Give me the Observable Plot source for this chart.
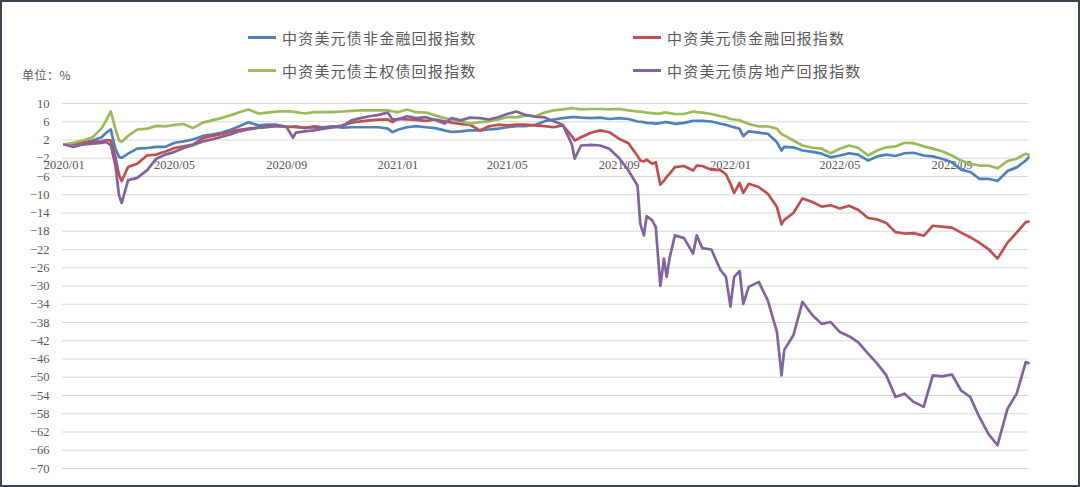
<!DOCTYPE html>
<html>
<head>
<meta charset="utf-8">
<script src="https://cdn.jsdelivr.net/npm/d3@7"></script>
<script src="https://cdn.jsdelivr.net/npm/@observablehq/plot@0.6"></script>
<style>
  html, body { margin: 0; padding: 0; background: #fff; }
  #wrap { position: relative; width: 1080px; height: 487px; background: #fff; overflow: hidden; }
  #frame { position: absolute; left: 0; top: 0; width: 1080px; height: 487px; box-sizing: border-box; border: 2px solid #3c4653; pointer-events: none; }
  #chart { position: absolute; left: 0; top: 0; }
  .leg { position: absolute; height: 20px; display: flex; align-items: center; font-family: "Noto Sans CJK SC", sans-serif; font-size: 15px; letter-spacing: 1.2px; color: #595959; white-space: nowrap; }
  .sw { display: inline-block; width: 28px; height: 3px; margin-right: 6px; }
  #unit { position: absolute; left: 22px; top: 66px; font-family: "Noto Sans CJK SC", sans-serif; font-size: 12px; letter-spacing: 0.5px; color: #595959; }
</style>
</head>
<body>
<div id="wrap">
  <div id="chart"></div>
  <div id="legend"></div>
  <div id="unit">单位：%</div>
  <div id="frame"></div>
</div>
<script>
const seriesNames = ["中资美元债非金融回报指数", "中资美元债金融回报指数", "中资美元债主权债回报指数", "中资美元债房地产回报指数"];
const seriesColors = ["#4f81bd", "#c0504d", "#9bbb59", "#8064a2"];

const yTicks = [10, 6, 2, -2, -6, -10, -14, -18, -22, -26, -30, -34, -38, -42, -46, -50, -54, -58, -62, -66, -70];
const xTickDates = ["2020-01-01", "2020-05-01", "2020-09-01", "2021-01-01", "2021-05-01", "2021-09-01", "2022-01-01", "2022-05-01", "2022-09-01"];
const xTickLabels = ["2020/01", "2020/05", "2020/09", "2021/01", "2021/05", "2021/09", "2022/01", "2022/05", "2022/09"];

const dates = [
  "2020-01-01","2020-01-11","2020-01-21","2020-02-01","2020-02-11","2020-02-16","2020-02-21","2020-02-26","2020-03-01","2020-03-04",
  "2020-03-11","2020-03-21","2020-04-01","2020-04-11","2020-04-21","2020-05-01","2020-05-11","2020-05-21","2020-06-01","2020-06-11",
  "2020-06-21","2020-07-01","2020-07-11","2020-07-21","2020-08-01","2020-08-11","2020-08-21","2020-09-01","2020-09-08","2020-09-11",
  "2020-09-21","2020-10-01","2020-10-11","2020-10-21","2020-11-01","2020-11-11","2020-11-21","2020-12-01","2020-12-11","2020-12-21",
  "2020-12-26","2021-01-01","2021-01-11","2021-01-21","2021-02-01","2021-02-11","2021-02-21","2021-03-01","2021-03-11","2021-03-21",
  "2021-04-01","2021-04-11","2021-04-21","2021-05-01","2021-05-11","2021-05-21","2021-06-01","2021-06-11","2021-06-21","2021-07-01",
  "2021-07-11","2021-07-14","2021-07-21","2021-08-01","2021-08-11","2021-08-21","2021-09-01","2021-09-11","2021-09-21","2021-09-24",
  "2021-09-28","2021-10-01","2021-10-07","2021-10-11","2021-10-16","2021-10-20","2021-10-23","2021-10-26","2021-11-01","2021-11-11",
  "2021-11-21","2021-11-25","2021-12-01","2021-12-11","2021-12-21","2021-12-27","2022-01-01","2022-01-05","2022-01-11","2022-01-15",
  "2022-01-21","2022-02-01","2022-02-11","2022-02-21","2022-02-26","2022-03-01","2022-03-11","2022-03-21","2022-04-01","2022-04-11",
  "2022-04-21","2022-05-01","2022-05-11","2022-05-21","2022-06-01","2022-06-11","2022-06-21","2022-07-01","2022-07-11","2022-07-21",
  "2022-08-01","2022-08-11","2022-08-21","2022-09-01","2022-09-11","2022-09-21","2022-10-01","2022-10-11","2022-10-21","2022-11-01",
  "2022-11-11","2022-11-21","2022-11-24"
];

const nonFinancial = [
  1.0, 1.1, 1.4, 1.9, 2.6, 3.6, 4.3, 0.1, -1.7, -1.9,
  -1.0, 0.1, 0.25, 0.5, 0.5, 1.4, 1.7, 2.1, 2.9, 3.2,
  3.6, 4.2, 5.0, 5.9, 5.2, 5.35, 5.35, 4.9, 4.9, 5.0,
  4.6, 5.0, 4.8, 5.0, 4.7, 4.8, 4.8, 4.8, 4.8, 4.5,
  3.7, 4.25, 4.8, 5.05, 4.8, 4.6, 4.1, 3.75, 3.9, 4.1,
  4.1, 4.3, 4.5, 4.8, 5.05, 5.05, 5.35, 6.1, 6.5, 6.8,
  7.0, 7.0, 6.9, 6.8, 6.9, 6.6, 6.8, 6.6, 6.05, 6.0,
  5.9, 5.75, 5.7, 5.6, 5.7, 5.9, 5.9, 5.8, 5.55, 5.75,
  6.2, 6.2, 6.2, 6.05, 5.55, 5.3, 5.0, 4.8, 4.45, 2.85,
  3.9, 3.6, 3.35, 1.5, -0.3, 0.5, 0.4, -0.3, -0.6, -1.0,
  -1.8, -1.4, -0.9, -1.2, -2.5, -1.6, -1.2, -1.5, -0.9, -0.8,
  -1.4, -1.6, -2.1, -2.9, -4.5, -5.0, -6.5, -6.5, -7.0, -4.8,
  -4.0, -2.5, -1.8
];

const financial = [
  1.0, 1.2, 1.5, 1.6, 1.7, 2.0, 1.9, -1.7, -5.7, -7.0,
  -3.9, -3.2, -1.35, -1.2, -0.5, 0.25, 0.6, 1.0, 2.4, 2.9,
  3.3, 3.75, 4.25, 4.5, 4.7, 5.0, 5.05, 4.9, 4.85, 4.8,
  4.7, 4.8, 4.6, 4.8, 5.2, 5.8, 6.1, 6.3, 6.45, 6.5,
  5.9, 6.65, 6.5, 6.4, 6.2, 6.5, 6.1, 5.8, 5.5, 5.35,
  4.1, 5.0, 5.35, 5.2, 5.35, 5.35, 5.2, 5.05, 4.8, 5.2,
  2.8, 1.9, 2.6, 3.6, 4.1, 3.7, 2.25, 1.3, -1.5, -2.5,
  -2.7, -2.3, -3.2, -2.85, -7.8, -6.9, -6.1, -5.4, -3.95, -3.7,
  -4.7, -3.6, -3.7, -4.5, -4.6, -5.5, -7.6, -9.6, -7.4, -9.6,
  -7.6, -8.3, -9.8, -12.7, -16.5, -15.5, -14.0, -10.8, -11.6, -12.6,
  -12.3, -13.0, -12.4, -13.3, -15.1, -15.4, -16.2, -18.2, -18.5, -18.4,
  -19.0, -16.8, -17.0, -17.2, -18.3, -19.3, -20.5, -21.9, -24.0, -20.5,
  -18.3, -16.0, -15.9
];

const sovereign = [
  1.0, 1.4, 1.9, 2.6, 4.6, 6.3, 8.25, 4.5, 1.9, 1.6,
  2.9, 4.3, 4.5, 5.1, 5.0, 5.3, 5.5, 4.6, 5.8, 6.3,
  6.8, 7.4, 8.1, 8.7, 7.8, 8.0, 8.2, 8.3, 8.2, 8.1,
  7.8, 8.1, 8.1, 8.1, 8.25, 8.4, 8.5, 8.5, 8.5, 8.5,
  8.3, 8.1, 8.7, 8.1, 8.0, 7.4, 6.8, 6.5, 6.1, 5.6,
  5.9, 6.1, 6.5, 7.0, 6.95, 7.4, 7.2, 8.0, 8.5, 8.7,
  9.0, 8.9, 8.7, 8.8, 8.8, 8.7, 8.8, 8.5, 8.25, 8.2,
  8.1, 8.0, 7.9, 7.8, 7.8, 8.0, 8.0, 7.9, 7.7, 7.7,
  8.25, 8.1, 8.0, 7.7, 7.2, 7.0, 6.6, 6.5, 6.3, 6.0,
  5.5, 5.0, 5.0, 4.45, 3.3, 3.0, 1.9, 0.8, 0.3, 0.1,
  -0.9, 0.1, 0.8, 0.3, -1.4, -0.3, 0.4, 0.6, 1.4, 1.3,
  0.6, 0.1, -0.45, -1.4, -2.5, -3.2, -3.6, -3.6, -4.2, -2.6,
  -2.1, -1.0, -1.2
];

const realEstate = [
  1.0, 0.5, 1.0, 1.2, 1.35, 1.6, 0.85, -3.5, -10.1, -11.8,
  -6.8, -6.3, -4.6, -2.1, -1.2, -0.6, 0.25, 0.85, 1.7, 2.15,
  2.65, 3.2, 3.9, 4.3, 4.7, 4.8, 5.2, 4.8, 2.5, 3.6,
  3.9, 4.1, 4.5, 4.75, 5.05, 6.3, 6.8, 7.2, 7.5, 8.0,
  6.5, 6.5, 7.2, 6.8, 7.0, 6.4, 5.6, 6.8, 6.3, 6.9,
  6.8, 6.5, 7.0, 7.7, 8.25, 7.5, 7.1, 6.95, 6.1, 5.35,
  1.0, -2.1, 0.8, 0.95, 0.8, 0.1, -2.0, -4.7, -8.0, -16.4,
  -18.9, -14.7, -15.6, -17.1, -30.0, -24.0, -28.0, -24.0, -18.9, -19.5,
  -22.9, -18.9, -21.7, -22.0, -26.5, -28.0, -34.5, -28.0, -26.7, -33.9,
  -30.2, -29.1, -33.2, -40.1, -49.6, -44.0, -40.8, -33.5, -36.4, -38.3,
  -37.9, -40.1, -41.0, -42.3, -44.8, -47.0, -49.6, -54.3, -53.6, -55.4,
  -56.5, -49.6, -49.8, -49.4, -52.9, -54.3, -58.7, -62.4, -64.9, -56.9,
  -53.6, -46.7, -46.9
];

const seriesValues = [nonFinancial, financial, sovereign, realEstate];

const lineMarks = seriesValues.map((vals, k) =>
  Plot.line(dates.map((d, i) => ({date: new Date(d), value: vals[i]})), {
    x: "date", y: "value", stroke: seriesColors[k], strokeWidth: 2.7,
    strokeLinejoin: "round", strokeLinecap: "round"
  })
);

const chart = Plot.plot({
  width: 1080,
  height: 487,
  marginTop: 103,
  marginBottom: 19,
  marginLeft: 62,
  marginRight: 52,
  style: {background: "transparent", overflow: "visible", fontFamily: "'Liberation Serif', serif", fontSize: "12.5px", color: "#595959"},
  x: {type: "utc", domain: [new Date("2019-12-30"), new Date("2022-11-24")], axis: null},
  y: {domain: [-70, 10], axis: null},
  marks: [
    Plot.gridY(yTicks, {stroke: "#d9d9d9", strokeOpacity: 1, strokeWidth: 1.2}),
    Plot.axisY(yTicks, {tickSize: 0, tickPadding: 13, fill: "#595959", fontSize: 12.5, fontFamily: "'Liberation Serif', serif", label: null}),
    Plot.text(xTickDates, {x: d => new Date(d), y: () => 0, text: (d, i) => xTickLabels[i], dy: 16, fill: "#595959", fontSize: 12.5, fontFamily: "'Liberation Serif', serif"}),
    ...lineMarks
  ]
});
document.getElementById("chart").appendChild(chart);

const legendPos = [[248, 37], [633, 37], [248, 70], [633, 70]];
const legend = document.getElementById("legend");
seriesNames.forEach((name, k) => {
  const item = document.createElement("div");
  item.className = "leg";
  item.style.left = legendPos[k][0] + "px";
  item.style.top = (legendPos[k][1] - 10) + "px";
  const sw = document.createElement("span");
  sw.className = "sw";
  sw.style.background = seriesColors[k];
  const tx = document.createElement("span");
  tx.textContent = name;
  item.appendChild(sw);
  item.appendChild(tx);
  legend.appendChild(item);
});
</script>
</body>
</html>
